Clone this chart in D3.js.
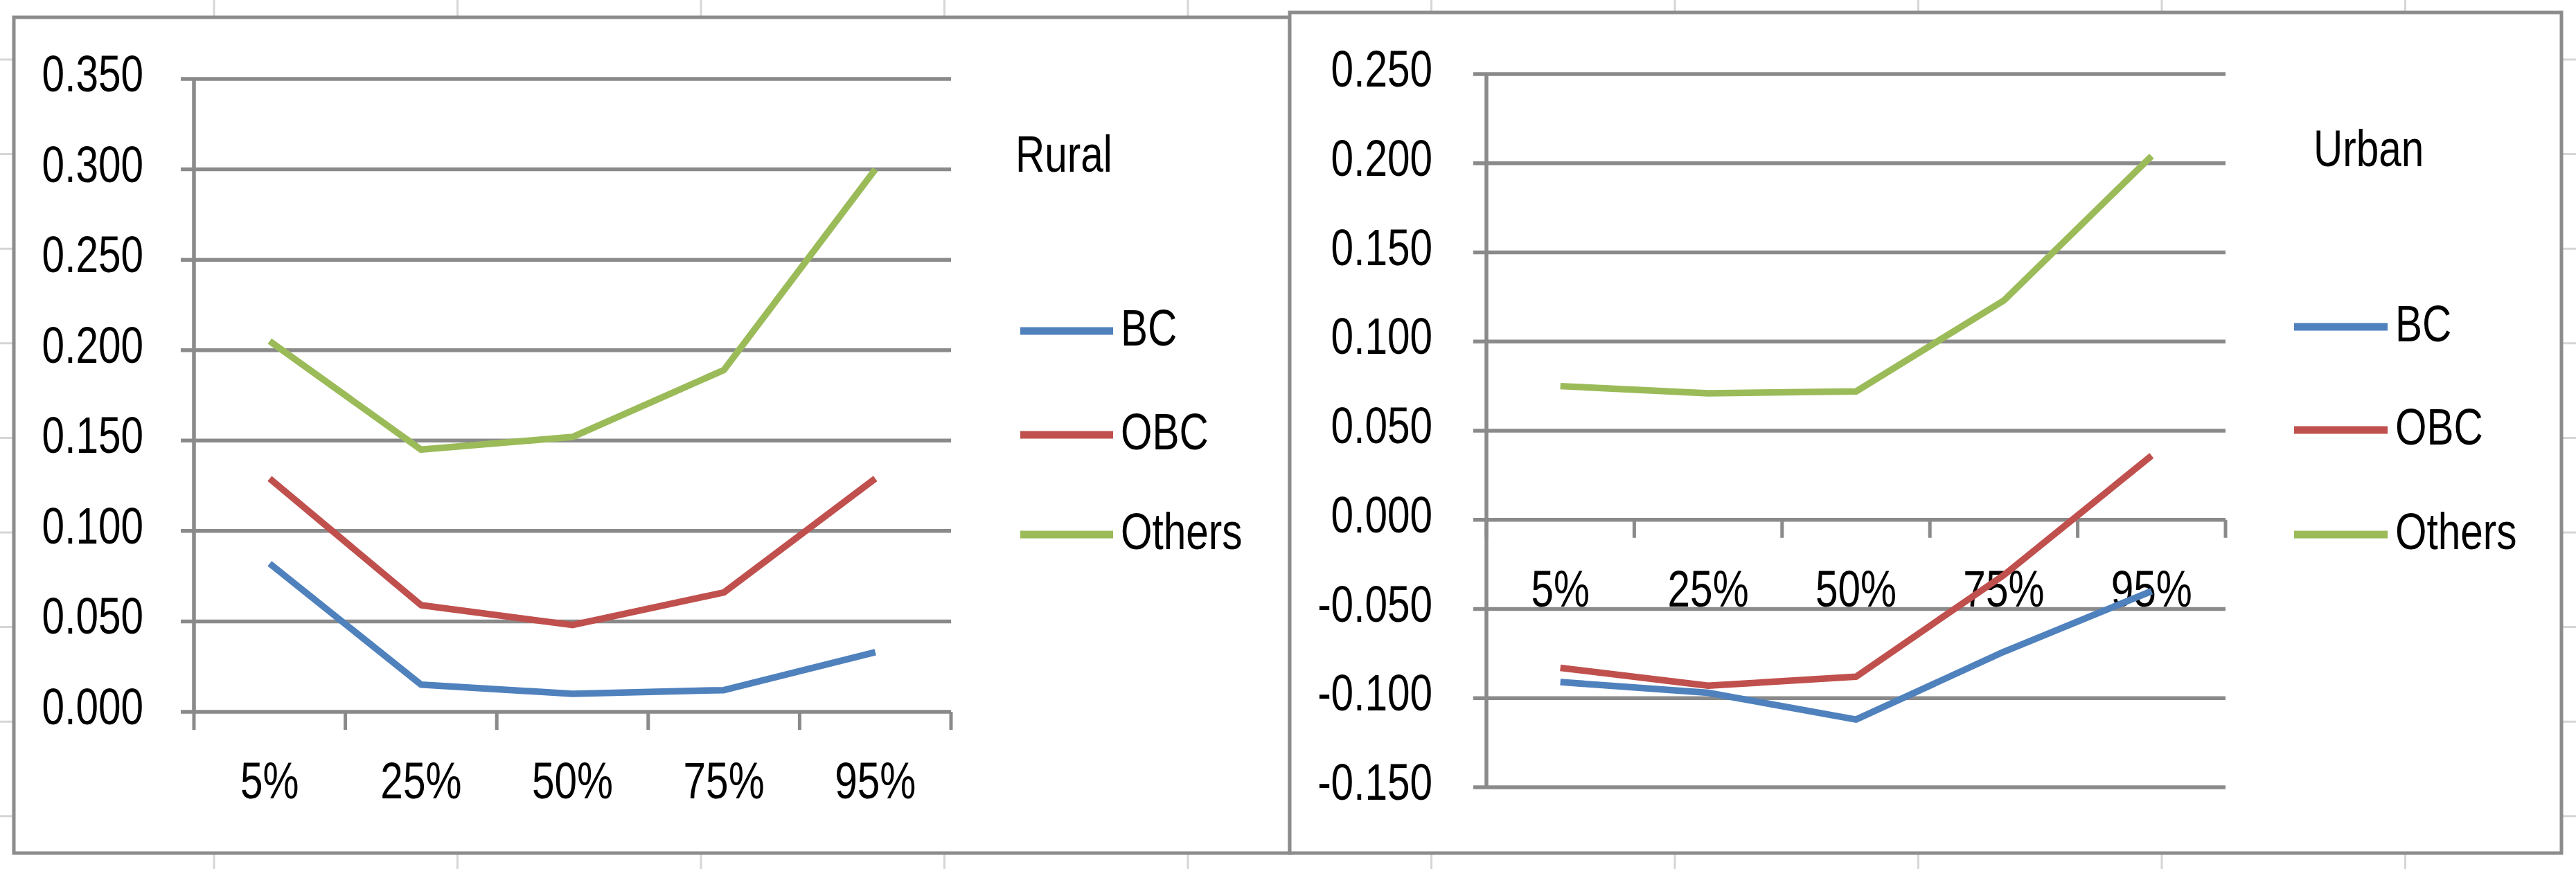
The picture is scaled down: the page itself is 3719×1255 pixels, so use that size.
<!DOCTYPE html>
<html><head><meta charset="utf-8">
<script src="https://cdn.jsdelivr.net/npm/d3@7"></script>
<style>
body{margin:0;background:#fff;}
svg text{font-family:"Liberation Sans",Arial,sans-serif;fill:#000;}
</style>
</head><body>
<svg id="c" width="3719" height="1255"></svg>
<script>
// ---------- data ----------
const categories = ["5%", "25%", "50%", "75%", "95%"];
const seriesNames = ["BC", "OBC", "Others"];
const seriesColors = ["#4F81BD", "#C0504D", "#9BBB59"];

const ruralBC     = [0.082, 0.015, 0.010, 0.012, 0.033];
const ruralOBC    = [0.129, 0.059, 0.048, 0.066, 0.129];
const ruralOthers = [0.205, 0.145, 0.152, 0.189, 0.300];

const urbanBC     = [-0.091, -0.097, -0.112, -0.074, -0.040];
const urbanOBC    = [-0.083, -0.093, -0.088, -0.031, 0.036];
const urbanOthers = [0.075, 0.071, 0.072, 0.123, 0.204];

const ruralTicks = [0, 0.05, 0.10, 0.15, 0.20, 0.25, 0.30, 0.35];
const urbanTicks = [-0.15, -0.10, -0.05, 0, 0.05, 0.10, 0.15, 0.20, 0.25];
const ruralTitle = "Rural";
const urbanTitle = "Urban";

// ---------- layout ----------
const svg = d3.select("#c");
const FS = 75, SX = 0.78;
const GRID = "#8a8a8a";

// background spreadsheet cell grid
const bg = svg.append("g");
bg.selectAll("line.v").data(d3.range(309, 3719, 351.5)).enter().append("line")
  .attr("x1", d => d).attr("x2", d => d).attr("y1", 0).attr("y2", 1255)
  .attr("stroke", "#d6d6d6").attr("stroke-width", 3);
bg.selectAll("line.h").data(d3.range(86, 1255, 136.6)).enter().append("line")
  .attr("x1", 0).attr("x2", 3719).attr("y1", d => d).attr("y2", d => d)
  .attr("stroke", "#d6d6d6").attr("stroke-width", 3);

function txt(g, x, y, s, anchor) {
  g.append("text")
    .attr("transform", `translate(${x},${y}) scale(${SX},1)`)
    .attr("text-anchor", anchor || "start")
    .attr("font-size", FS)
    .text(s);
}
const fmt = v => (v < 0 ? "-" : "") + Math.abs(v).toFixed(3);

function panel(cfg) {
  const g = svg.append("g");
  g.append("rect").attr("x", cfg.box[0]).attr("y", cfg.box[1])
    .attr("width", cfg.box[2] - cfg.box[0]).attr("height", cfg.box[3] - cfg.box[1])
    .attr("fill", "#fff").attr("stroke", "#8c8c8c").attr("stroke-width", 5);

  const x = d3.scaleBand().domain(categories).range(cfg.xr).paddingInner(0).paddingOuter(0);
  const y = d3.scaleLinear().domain(cfg.domain).range(cfg.yr);
  const bw = x.bandwidth();

  // gridlines
  g.selectAll("line.grid").data(cfg.ticks).enter().append("line")
    .attr("x1", cfg.xr[0] - 19).attr("x2", cfg.xr[1])
    .attr("y1", d => y(d)).attr("y2", d => y(d))
    .attr("stroke", GRID).attr("stroke-width", 5.5);
  // y axis line
  g.append("line").attr("x1", cfg.xr[0]).attr("x2", cfg.xr[0])
    .attr("y1", y(cfg.domain[1])).attr("y2", y(cfg.domain[0]))
    .attr("stroke", GRID).attr("stroke-width", 5.5);
  // x tick marks at category boundaries (on zero line)
  const bounds = categories.map(c => x(c)).concat([x(categories[categories.length - 1]) + bw]);
  g.selectAll("line.xt").data(bounds).enter().append("line")
    .attr("x1", d => d).attr("x2", d => d)
    .attr("y1", y(0)).attr("y2", y(0) + 26)
    .attr("stroke", GRID).attr("stroke-width", 5);
  // y labels
  cfg.ticks.forEach(t => txt(g, cfg.ylabX, y(t) + 18, fmt(t), "end"));
  // x labels
  categories.forEach(c => txt(g, x(c) + bw / 2, y(0) + 125, c, "middle"));

  // series
  const line = d3.line().x((d, i) => x(categories[i]) + bw / 2).y(d => y(d));
  cfg.series.forEach((s, k) => {
    g.append("path").attr("d", line(s)).attr("fill", "none")
      .attr("stroke", seriesColors[k]).attr("stroke-width", 9.5)
      .attr("stroke-linejoin", "round");
  });

  // title
  txt(g, cfg.titlePos[0], cfg.titlePos[1], cfg.title, "start");
  // legend
  seriesNames.forEach((n, k) => {
    const ly = cfg.legY[k];
    g.append("line").attr("x1", cfg.legX[0]).attr("x2", cfg.legX[1])
      .attr("y1", ly).attr("y2", ly)
      .attr("stroke", seriesColors[k]).attr("stroke-width", 11);
    txt(g, cfg.legX[1] + 11, ly + 21, n, "start");
  });
}

panel({
  box: [20, 25, 1862, 1232],
  xr: [280, 1373], yr: [1028, 114], domain: [0, 0.35],
  ticks: ruralTicks, ylabX: 207,
  series: [ruralBC, ruralOBC, ruralOthers],
  title: ruralTitle, titlePos: [1466, 248],
  legX: [1473, 1607], legY: [478, 628, 772]
});
panel({
  box: [1862, 18, 3698, 1232],
  xr: [2146, 3213], yr: [1137, 107], domain: [-0.15, 0.25],
  ticks: urbanTicks, ylabX: 2068,
  series: [urbanBC, urbanOBC, urbanOthers],
  title: urbanTitle, titlePos: [3340, 240],
  legX: [3312, 3447], legY: [472, 621, 772]
});
</script>
</body></html>
